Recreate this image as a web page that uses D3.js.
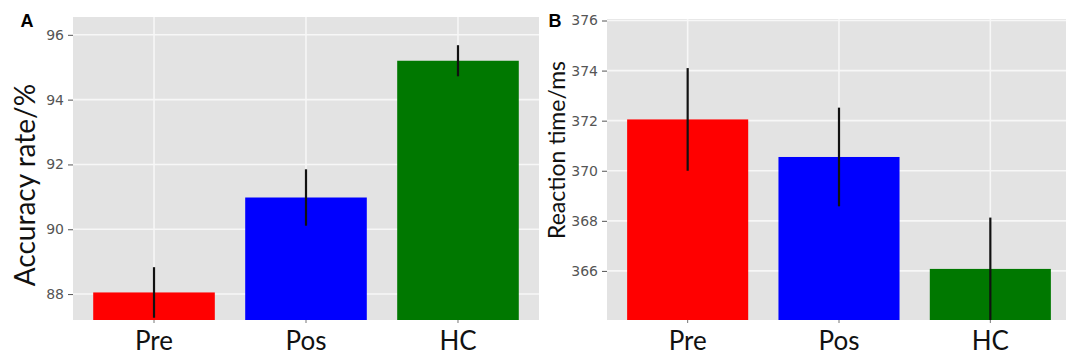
<!DOCTYPE html>
<html>
<head>
<meta charset="utf-8">
<script src="https://cdn.jsdelivr.net/npm/d3@7"></script>
<style>
  html, body { margin: 0; padding: 0; background: #fff; }
  svg { display: block; }
</style>
</head>
<body>
<div id="chart"></div>
<script>
// Bar charts with error bars: accuracy (A) and reaction time (B)

const groups = ["Pre", "Pos", "HC"];

const accuracyMean = [88.05, 90.98, 95.20];
const accuracyErr = [0.78, 0.87, 0.48];
const accuracyTicks = [88, 90, 92, 94, 96];
const accuracyDomain = [87.2, 96.55];

const rtMean = [372.05, 370.55, 366.08];
const rtErr = [2.05, 1.97, 2.05];
const rtTicks = [366, 368, 370, 372, 374, 376];
const rtDomain = [364.04, 376.06];

const width = 1066, height = 356;

const svg = d3.select("#chart")
    .append("svg")
    .attr("width", width)
    .attr("height", height);

const color = d3.scaleOrdinal()
    .domain(groups)
    .range(["#ff0000", "#0000ff", "#007800"]);

function drawPanel(opts) {
    const { left, right, top, bottom, means, errs, ticks, domain, tag, title } = opts;

    const x = d3.scaleBand()
        .domain(groups)
        .range([left, right])
        .paddingInner(0.2)
        .paddingOuter(0.133);

    const y = d3.scaleLinear()
        .domain(domain)
        .range([bottom, top]);

    const g = svg.append("g");
    const clipId = "clip-" + tag;

    svg.append("clipPath").attr("id", clipId)
        .append("rect")
        .attr("x", left).attr("y", top)
        .attr("width", right - left).attr("height", bottom - top);

    // panel background
    g.append("rect")
        .attr("x", left).attr("y", top)
        .attr("width", right - left).attr("height", bottom - top)
        .attr("fill", "#e3e3e3");

    // grid
    g.append("g").selectAll("line")
        .data(ticks)
        .join("line")
        .attr("x1", left).attr("x2", right)
        .attr("y1", d => y(d)).attr("y2", d => y(d))
        .attr("stroke", "#f7f7f7")
        .attr("stroke-width", 1.6);

    g.append("g").selectAll("line")
        .data(groups)
        .join("line")
        .attr("x1", d => x(d) + x.bandwidth() / 2)
        .attr("x2", d => x(d) + x.bandwidth() / 2)
        .attr("y1", top).attr("y2", bottom)
        .attr("stroke", "#f7f7f7")
        .attr("stroke-width", 1.6);

    const data = groups.map((k, i) => ({ k, m: means[i], e: errs[i] }));

    const marks = g.append("g").attr("clip-path", `url(#${clipId})`);

    marks.selectAll("rect")
        .data(data)
        .join("rect")
        .attr("x", d => x(d.k))
        .attr("width", x.bandwidth())
        .attr("y", d => y(d.m))
        .attr("height", d => y(domain[0]) - y(d.m))
        .attr("fill", d => color(d.k));

    marks.selectAll("line")
        .data(data)
        .join("line")
        .attr("x1", d => x(d.k) + x.bandwidth() / 2)
        .attr("x2", d => x(d.k) + x.bandwidth() / 2)
        .attr("y1", d => y(d.m + d.e))
        .attr("y2", d => y(d.m - d.e))
        .attr("stroke", "#111")
        .attr("stroke-width", 2.2);

    // y axis
    const yAxis = g.append("g")
        .attr("transform", `translate(${left},0)`)
        .call(d3.axisLeft(y).tickValues(ticks).tickSize(5).tickPadding(4));
    yAxis.select(".domain").remove();
    yAxis.selectAll(".tick line").attr("stroke", "#555").attr("stroke-width", 1);
    yAxis.selectAll(".tick text")
        .attr("fill", "#555")
        .style("font-family", "DejaVu Sans, sans-serif")
        .style("font-size", "14px");

    // x axis
    const xAxis = g.append("g")
        .attr("transform", `translate(0,${bottom})`)
        .call(d3.axisBottom(x).tickSize(3).tickPadding(9));
    xAxis.select(".domain").remove();
    xAxis.selectAll(".tick line").attr("stroke", "#777");
    xAxis.selectAll(".tick text")
        .attr("fill", "#111")
        .attr("dy", "0.71em")
        .style("font-family", "Lato, sans-serif")
        .style("font-size", "26px");

    // y title
    svg.append("text")
        .attr("transform", `translate(${title.x},${title.y}) rotate(-90)`)
        .attr("text-anchor", "middle")
        .attr("fill", "#111")
        .style("font-family", "Lato, sans-serif")
        .style("font-size", title.size + "px")
        .text(title.text);

    // panel tag
    svg.append("text")
        .attr("x", opts.tagX).attr("y", 26.5)
        .attr("fill", "#000")
        .style("font-family", "Liberation Sans, Arial, sans-serif")
        .style("font-weight", "bold")
        .style("font-size", "18px")
        .text(tag);
}

drawPanel({
    left: 73, right: 539, top: 17, bottom: 320,
    means: accuracyMean, errs: accuracyErr,
    ticks: accuracyTicks, domain: accuracyDomain,
    tag: "A", tagX: 20.5,
    title: { text: "Accuracy rate/%", x: 35, y: 185, size: 28 }
});

drawPanel({
    left: 607, right: 1071, top: 19, bottom: 320,
    means: rtMean, errs: rtErr,
    ticks: rtTicks, domain: rtDomain,
    tag: "B", tagX: 548.5,
    title: { text: "Reaction time/ms", x: 565, y: 150, size: 23 }
});
</script>
</body>
</html>
